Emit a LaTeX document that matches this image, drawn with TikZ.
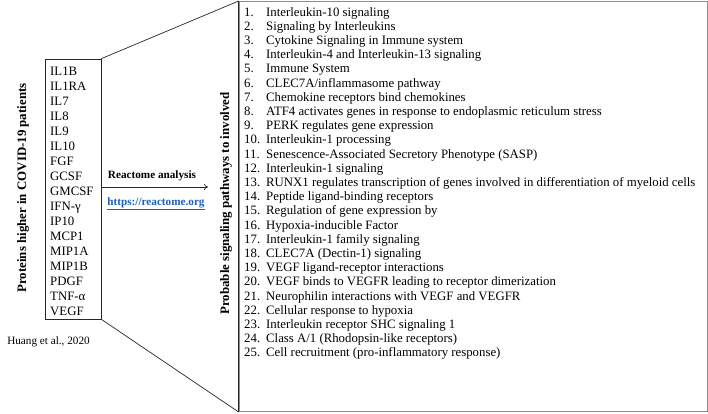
\documentclass[tikz,border=0pt]{standalone}
\usepackage{fontspec}
\setmainfont{Liberation Serif}
\usetikzlibrary{arrows.meta}
\definecolor{linkblue}{HTML}{1A5FC0}
\definecolor{framegray}{HTML}{8C8C8C}
\begin{document}
\begin{tikzpicture}[x=1pt,y=-1pt,
  listtxt/.style={inner sep=0pt,anchor=base west,font=\fontsize{12.8}{14}\selectfont},
  vlabel/.style={inner sep=0pt,rotate=90,font=\fontsize{12.9}{14}\selectfont\bfseries},
  smalltxt/.style={inner sep=0pt,anchor=base,font=\fontsize{11.2}{13}\selectfont},
  boxline/.style={draw=black!85,line width=0.7pt}]
\useasboundingbox (0,0) rectangle (708,413);
% boxes
\node[boxline,minimum width=56pt,minimum height=260pt,inner sep=0pt] (prot) at (73,189) {};
\node[draw=framegray,line width=0.9pt,minimum width=468pt,minimum height=410pt,inner sep=0pt] (path) at (473,206.5) {};
\draw[boxline] (path.north west) -- (path.south west);
% connectors
\draw[boxline] (prot.north east) -- (path.north west);
\draw[boxline] (prot.south east) -- (path.south west);
\coordinate (arrend) at (208,187);
\draw[black!85,line width=0.7pt,-{To[length=4pt,width=6pt]}] ([yshift=2pt]prot.east) -- (arrend);
% labels
\node[vlabel] (plabel) at (23,188) {Proteins higher in COVID-19 patients};
\node[vlabel] (slabel) at (226,203.5) {Probable signaling pathways to involved};
\node[smalltxt,font=\fontsize{11.2}{13}\selectfont\bfseries] (ra) at (152,178.5) {Reactome analysis};
\node[smalltxt,font=\fontsize{11.2}{13}\selectfont\bfseries,text=linkblue] (url) at (156,205.5) {\underline{https://reactome.org}};
\node[smalltxt] (huang) at (48.5,344) {Huang et al., 2020};
% protein list
\foreach \t [count=\i] in {IL1B,IL1RA,IL7,IL8,IL9,IL10,FGF,GCSF,GMCSF,IFN-γ,IP10,MCP1,MIP1A,MIP1B,PDGF,TNF-α,VEGF}
  \node[listtxt] (p\i) at (50,{75+15*(\i-1)}) {\t};
% pathway list
\foreach \t [count=\i] in {
 Interleukin-10 signaling,
 Signaling by Interleukins,
 Cytokine Signaling in Immune system,
 Interleukin-4 and Interleukin-13 signaling,
 Immune System,
 CLEC7A/inflammasome pathway,
 Chemokine receptors bind chemokines,
 ATF4 activates genes in response to endoplasmic reticulum stress,
 PERK regulates gene expression,
 Interleukin-1 processing,
 Senescence-Associated Secretory Phenotype (SASP),
 Interleukin-1 signaling,
 RUNX1 regulates transcription of genes involved in differentiation of myeloid cells,
 Peptide ligand-binding receptors,
 Regulation of gene expression by,
 Hypoxia-inducible Factor,
 Interleukin-1 family signaling,
 CLEC7A (Dectin-1) signaling,
 VEGF ligand-receptor interactions,
 VEGF binds to VEGFR leading to receptor dimerization,
 Neurophilin interactions with VEGF and VEGFR,
 Cellular response to hypoxia,
 Interleukin receptor SHC signaling 1,
 Class A/1 (Rhodopsin-like receptors),
 Cell recruitment (pro-inflammatory response)}
 {
  \node[listtxt] (n\i) at (244,{16+14.2*(\i-1)}) {\i.};
  \node[listtxt] (r\i) at (266,{16+14.2*(\i-1)}) {\t};
 }
\end{tikzpicture}
\end{document}
